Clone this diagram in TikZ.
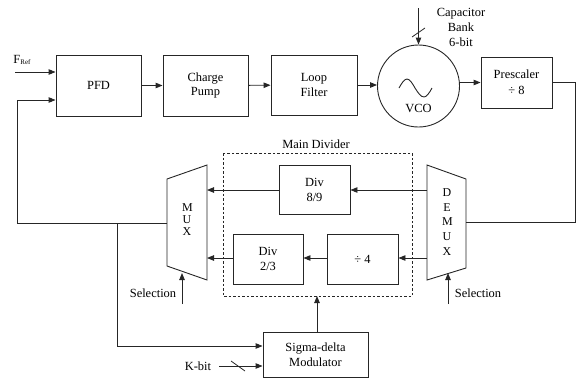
\documentclass[tikz,border=0pt]{standalone}
\usepackage{fontspec}
\setmainfont{Liberation Serif}
\usetikzlibrary{arrows.meta,calc}
\begin{document}
\begin{tikzpicture}[x=1bp,y=-1bp,
  line width=0.9bp, draw=black!85,
  txt/.style={font=\fontsize{12.5}{15}\selectfont, inner sep=0pt, align=center},
  blk/.style={draw, fill=white, txt},
  arr/.style={-{Triangle[length=7bp,width=5.5bp]}},
  mux/.style={draw, line width=0.9bp}
]
\useasboundingbox (0,0) rectangle (577,378);

% top chain
\node[blk, minimum width=85bp, minimum height=61bp] (pfd) at (98.5,85.5) {PFD};
\node[blk, minimum width=85bp, minimum height=61bp] (cp) at (205.5,85.5) {Charge\\Pump};
\node[blk, minimum width=86bp, minimum height=60bp] (lf) at (314,85) {Loop\\Filter};
\node[draw, circle, minimum size=82bp, inner sep=0pt] (vco) at (418.5,86) {};
\node[txt] (vcot) at (418.5,108) {VCO};
\draw (399,88) sin (407,79) cos (415,88) sin (424,97) cos (432,88);
\node[blk, minimum width=71bp, minimum height=51bp] (pre) at (516.5,82.5) {Prescaler\\[1bp]÷ 8};

% capacitor bank
\node[txt] (cap) at (461,27) {Capacitor\\Bank\\6-bit};
\coordinate (capin) at (418.5,8);
\draw[arr] (capin) -- (vco.north);
\draw[line width=0.8bp] (412,37) -- (425,28);

% inputs
\node[txt, anchor=west] (fref) at (13,60) {F\textsubscript{\fontsize{7}{8}\selectfont Ref}};
\coordinate (frefin) at (15,72);
\draw[arr] (frefin) -- (pfd.west |- frefin);

\draw[arr] (pfd) -- (cp);
\draw[arr] (cp) -- (lf);
\draw[arr] (lf.east) -- (vco.west |- lf.east);
\coordinate (vcoout) at (459.5,82.5);
\draw[arr] (vcoout) -- (pre.west);

% main divider
\draw[dashed, dash pattern=on 2.5bp off 2bp, line width=0.8bp] (223,153) rectangle (412,296);
\node[txt] (mdl) at (316,144) {Main Divider};
\node[blk, minimum width=71bp, minimum height=49bp] (d89) at (314.5,189.5) {Div\\8/9};
\node[blk, minimum width=70bp, minimum height=50bp] (d23) at (268,259) {Div\\2/3};
\node[blk, minimum width=71bp, minimum height=50bp] (d4) at (362.5,259) {÷ 4};

% MUX / DEMUX
\draw[mux] (167,179) -- (207,165) -- (207,280) -- (167,266) -- cycle;
\node[txt, font=\fontsize{12}{12}\selectfont, text width=10bp] (muxt) at (187,220) {M\\U\\X};
\draw[mux] (427,165) -- (466,179) -- (466,268) -- (427,280) -- cycle;
\node[txt, font=\fontsize{12}{14.8}\selectfont, text width=10bp] (demuxt) at (447,222) {D\\E\\M\\U\\X};

\coordinate (muxin1) at (207,190);
\coordinate (muxin2) at (207,258);
\coordinate (muxout) at (167,223);
\coordinate (dmxo1) at (427,190);
\coordinate (dmxo2) at (427,258);
\coordinate (dmxin) at (466,222);

\draw[arr] (dmxo1) -- (d89.east |- dmxo1);
\draw[arr] (dmxo2) -- (d4.east |- dmxo2);
\draw[arr] (d4.west |- dmxo2) -- (d23.east |- dmxo2);
\draw[arr] (d89.west |- muxin1) -- (muxin1);
\draw[arr] (d23.west |- muxin2) -- (muxin2);

% prescaler to demux
\coordinate (rc) at (575,82.5);
\draw (pre.east) -- (rc) -- (rc |- dmxin) -- (dmxin);

% feedback
\coordinate (fbl) at (17,223);
\coordinate (br) at (117,223);
\draw[arr] (muxout) -- (fbl) -- (17,100) -- (pfd.west |- 0,100);

% sigma-delta
\node[blk, minimum width=105bp, minimum height=45bp] (sd) at (315.5,354.5) {Sigma-delta\\Modulator};
\draw[arr] (br) -- (br |- 0,346) -- (sd.west |- 0,346);
\node[txt] (kbit) at (198,366) {K-bit};
\coordinate (kin) at (219,366);
\draw[arr] (kin) -- (sd.west |- kin);
\draw[line width=0.8bp] (231,361) -- (245,371);
\draw[arr] (317,332) -- (317,296);

% selection
\node[txt] (sel1) at (153,293) {Selection};
\coordinate (s1) at (182,304);
\draw[arr] (s1) -- (182,273);
\node[txt] (sel2) at (478,293) {Selection};
\coordinate (s2) at (448,304);
\draw[arr] (s2) -- (448,273);
\end{tikzpicture}
\end{document}
